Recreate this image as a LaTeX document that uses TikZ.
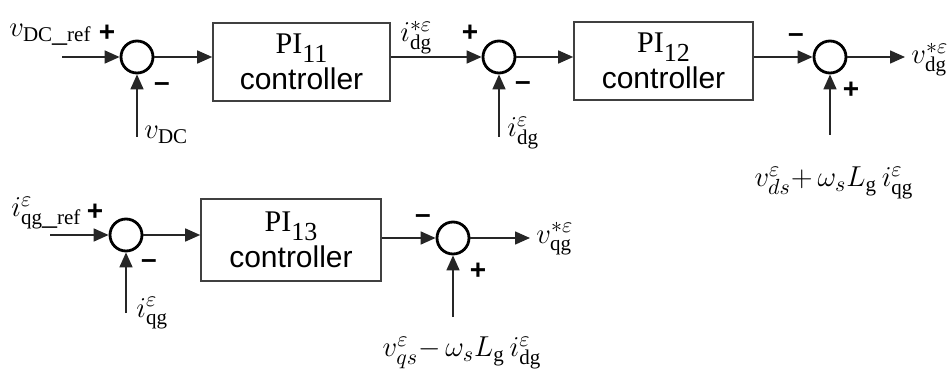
\documentclass[tikz,border=0pt]{standalone}
\usepackage{fontspec}
\setmainfont{Liberation Serif}
\setsansfont{Liberation Sans}
\usetikzlibrary{arrows.meta}
\begin{document}
\begin{tikzpicture}[x=0.5pt,y=-0.5pt,
  sumnode/.style={circle,draw=black,line width=1.4pt,minimum size=16pt,inner sep=0pt},
  blockbox/.style={draw=black!75,line width=0.8pt,align=center,inner sep=0pt,
    font=\fontsize{15}{19}\selectfont},
  arr/.style={line width=0.8pt,draw=black!85,-{Triangle[length=7.5pt,width=6.5pt]}},
  sgn/.style={font=\sffamily\fontsize{14}{14}\selectfont,inner sep=0pt},
  lbl/.style={font=\fontsize{15}{17}\selectfont,inner sep=0pt}
]
\useasboundingbox (0,0) rectangle (949,369);
\newcommand{\ctrltext}[1]{PI{\fontsize{13}{13}\selectfont\raisebox{-4.5pt}{#1}}\\[-1pt]{\sffamily controller}}
% ---------- row 1 ----------
\node[sumnode] (c1) at (137,57) {};
\node[blockbox,minimum width=88.5pt,minimum height=39pt] (b1) at (301.5,62) {\ctrltext{11}};
\node[sumnode] (c2) at (499,57) {};
\node[blockbox,minimum width=89.5pt,minimum height=39pt] (b2) at (663.5,61) {\ctrltext{12}};
\node[sumnode] (c3) at (830,57) {};
\coordinate (in1) at (62,57);
\coordinate (fb1) at (137,137);
\coordinate (fb2) at (499,137);
\coordinate (fb3) at (830,135);
\coordinate (out1) at (905,57);
\draw[arr] (in1) -- (c1);
\draw[arr] (c1) -- (b1.west |- c1);
\draw[arr] (fb1) -- (c1);
\draw[arr] (b1.east |- c2) -- (c2);
\draw[arr] (fb2) -- (c2);
\draw[arr] (c2) -- (b2.west |- c2);
\draw[arr] (b2.east |- c3) -- (c3);
\draw[arr] (c3) -- (out1);
\draw[arr] (fb3) -- (c3);
% labels row 1
\node[lbl,anchor=base west] (l1) at (9,37) {$v_{\mathrm{DC\_ref}}$};
\node[sgn] (p1) at (107,33) {\textbf{+}};
\node[sgn] (m1) at (162,87) {\textbf{\textendash}};
\node[lbl,anchor=base west] (l2) at (144,139) {$v_{\mathrm{DC}}$};
\node[lbl,anchor=base west] (l3) at (400,42) {$i^{*\varepsilon}_{\mathrm{dg}}$};
\node[sgn] (p2) at (470,33) {\textbf{+}};
\node[sgn] (m2) at (523,86) {\textbf{\textendash}};
\node[lbl,anchor=base west] (l4) at (507,137) {$i^{\varepsilon}_{\mathrm{dg}}$};
\node[sgn] (m3) at (796,38) {\textbf{\textendash}};
\node[sgn] (p3) at (851,90) {\textbf{+}};
\node[lbl,anchor=base west] (l5) at (911,64) {$v^{*\varepsilon}_{\mathrm{dg}}$};
\node[lbl,anchor=base] (l6) at (834,187) {$v^{\varepsilon}_{ds}{+}\,\omega_s L_{\mathrm{g}}\, i^{\varepsilon}_{\mathrm{qg}}$};
% ---------- row 2 ----------
\node[sumnode] (c4) at (126,235) {};
\node[blockbox,minimum width=90pt,minimum height=41pt] (b3) at (291,240) {\ctrltext{13}};
\node[sumnode] (c5) at (453,238) {};
\coordinate (in4) at (50,235);
\coordinate (fb4) at (126,313);
\coordinate (fb5) at (453,317);
\coordinate (out2) at (530,238);
\draw[arr] (in4) -- (c4);
\draw[arr] (c4) -- (b3.west |- c4);
\draw[arr] (fb4) -- (c4);
\draw[arr] (b3.east |- c5) -- (c5);
\draw[arr] (c5) -- (out2);
\draw[arr] (fb5) -- (c5);
% labels row 2
\node[lbl,anchor=base west] (l7) at (11,217) {$i^{\varepsilon}_{\mathrm{qg\_ref}}$};
\node[sgn] (p4) at (95,212) {\textbf{+}};
\node[sgn] (m4) at (149,264) {\textbf{\textendash}};
\node[lbl,anchor=base west] (l8) at (136,317) {$i^{\varepsilon}_{\mathrm{qg}}$};
\node[sgn] (m5) at (423,219) {\textbf{\textendash}};
\node[sgn] (p5) at (478,271) {\textbf{+}};
\node[lbl,anchor=base west] (l9) at (536,243) {$v^{*\varepsilon}_{\mathrm{qg}}$};
\node[lbl,anchor=base] (l10) at (462,357) {$v^{\varepsilon}_{qs}{-}\,\omega_s L_{\mathrm{g}}\, i^{\varepsilon}_{\mathrm{dg}}$};
\end{tikzpicture}
\end{document}
